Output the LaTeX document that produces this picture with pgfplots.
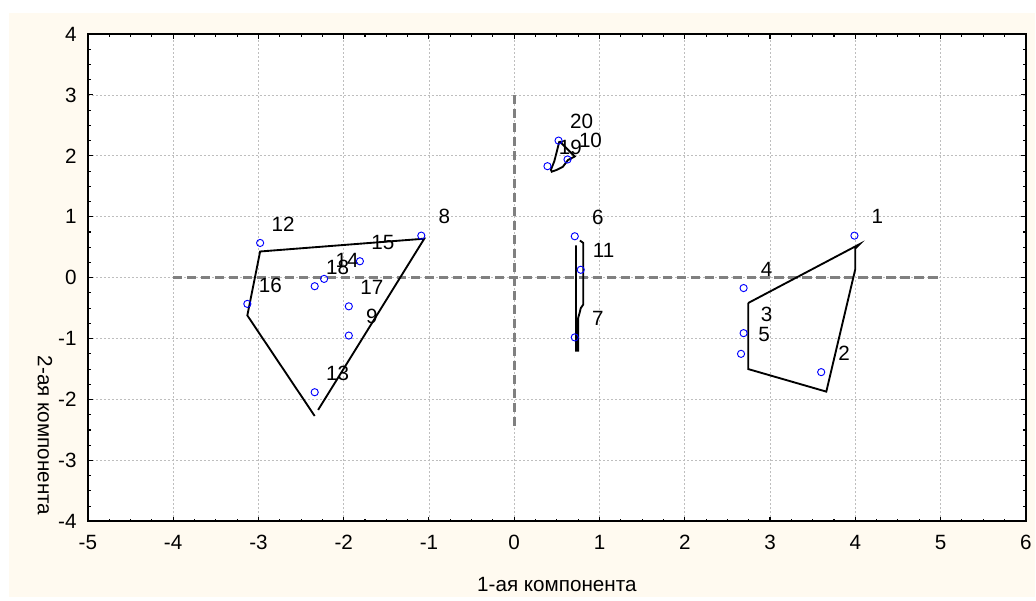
\documentclass[border=0pt]{standalone}
\usepackage{fontspec}
\setmainfont{Liberation Sans}
\usepackage{pgfplots}
\pgfplotsset{compat=1.18}
\usepackage{pgfplotstable}

\definecolor{paper}{RGB}{255,250,240}
\definecolor{markblue}{RGB}{0,0,255}
\definecolor{refgray}{RGB}{128,128,128}
\definecolor{gridgray}{RGB}{190,190,190}

% object scores on the first two components
\pgfplotstableread{
x      y      lab
3.99   0.69   1
3.60  -1.55   2
2.69  -0.91   3
2.69  -0.17   4
2.66  -1.25   5
0.71   0.68   6
0.71  -0.98   7
-1.09  0.69   8
-1.94 -0.95   9
0.625  1.94   10
0.78   0.13   11
-2.98  0.57   12
-2.34 -1.88   13
-2.23 -0.02   14
-1.81  0.27   15
-3.13 -0.43   16
-1.94 -0.47   17
-2.34 -0.14   18
0.39   1.83   19
0.52   2.25   20
}\scores

% cluster outlines
\pgfplotstableread{
x      y
-2.30 -2.17
-1.055 0.64
-2.98  0.43
-3.13 -0.62
-2.34 -2.27
}\hullA

\pgfplotstableread{
x      y
2.745 -0.415
4.05   0.55
4.00   0.48
4.00   0.14
3.66  -1.87
2.745 -1.50
2.745 -0.415
}\hullB

\pgfplotstableread{
x      y
0.53   2.24
0.71   1.99
0.63   1.93
0.57   1.82
0.50   1.77
0.44   1.74
0.43   1.77
0.47   1.91
0.53   2.24
}\hullC

\pgfplotstableread{
x      y
0.725  0.53
0.725 -1.20
0.75  -1.20
0.75  -0.66
0.77  -0.56
0.78  -0.50
0.81  -0.44
0.81   0.57
0.77   0.61
}\hullD

\begin{document}
\begin{tikzpicture}[font=\fontsize{15.5}{18}\selectfont]
\path (-66pt,-59.25pt) rectangle (711pt,391.5pt);
\fill[paper] (-59.25pt,-57pt) rectangle (711pt,381.75pt);
\begin{axis}[
  at={(0,0)}, anchor=south west,
  scale only axis, width=704.25pt, height=366pt,
  xmin=-5, xmax=6, ymin=-4, ymax=4,
  xtick={-5,-4,...,6}, ytick={-4,-3,...,4},
  minor tick num=3,
  tick align=inside,
  major tick length=3.5pt, minor tick length=2pt,
  tick style={black, line width=0.8pt},
  axis line style={black, line width=1.5pt},
  grid=major,
  grid style={gridgray, line width=0.5pt, dash pattern=on 1.5pt off 1.5pt},
  axis background/.style={fill=white},
  /pgf/number format/assume math mode=true,
  x tick label style={yshift=-7pt},
  y tick label style={xshift=-5pt},
  xlabel={1-ая компонента},
  ylabel={2-ая компонента},
  every axis x label/.style={at={(axis description cs:0.5,-0.129)}, anchor=center},
  every axis y label/.style={at={(axis description cs:-0.0458,0.176)}, anchor=center, rotate=-90},
]
  % reference cross
  \addplot[refgray, line width=2pt, dash pattern=on 7pt off 3.5pt] coordinates {(-4,0) (5,0)};
  \addplot[refgray, line width=2pt, dash pattern=on 7pt off 3.5pt] coordinates {(0,3) (0,-2.5)};

  % outlines
  \addplot[black, line width=1.4pt] table[x=x, y=y] {\hullA};
  \addplot[black, line width=1.4pt] table[x=x, y=y] {\hullB};
  \addplot[black, line width=1.4pt] table[x=x, y=y] {\hullC};
  \addplot[black, line width=1.4pt] table[x=x, y=y] {\hullD};

  % objects
  \addplot[only marks, mark=o, mark size=2.7pt, markblue,
           mark options={line width=0.7pt},
           nodes near coords, point meta=explicit symbolic,
           every node near coord/.style={anchor=center, xshift=17.25pt, yshift=14.25pt, text=black}]
    table[x=x, y=y, meta=lab] {\scores};
\end{axis}
\end{tikzpicture}
\end{document}
